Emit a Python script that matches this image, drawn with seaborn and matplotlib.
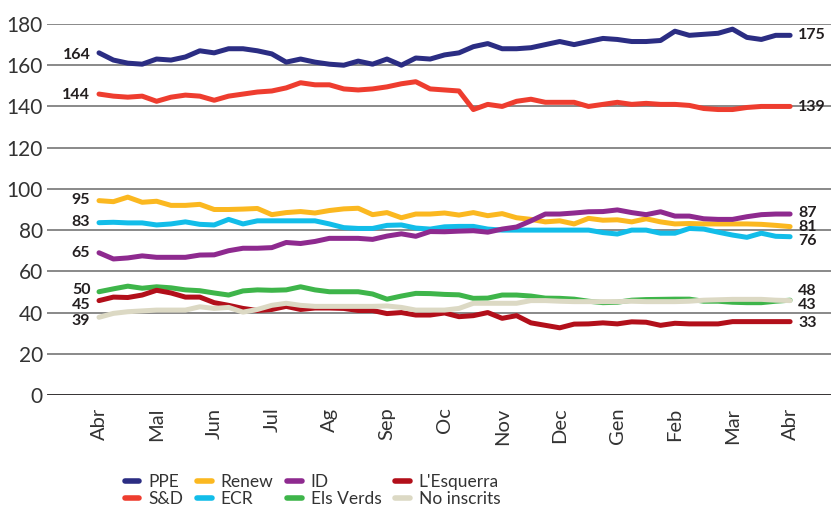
import numpy as np
import pandas as pd
import matplotlib
matplotlib.use("Agg")
import matplotlib.pyplot as plt
import seaborn as sns

# x en mesos (0 = Abr ... 12 = Abr), un punt cada quart de mes
mesos = ["Abr", "Mal", "Jun", "Jul", "Ag", "Sep", "Oc", "Nov", "Dec", "Gen", "Feb", "Mar", "Abr"]
x = np.arange(0, 12.01, 0.25)

ppe = [166, 162.5, 161, 160.5, 163, 162.5, 164, 167, 166, 168, 168, 167, 165.5,
       161.5, 163, 161.5, 160.5, 160, 162, 160.5, 163, 160, 163.5, 163, 165,
       166, 169, 170.5, 168, 168, 168.5, 170, 171.5, 170, 171.5, 173, 172.5,
       171.5, 171.5, 172, 176.5, 174.5, 175, 175.5, 177.5, 173.5, 172.5, 174.5, 174.5]
sd = [146, 145, 144.5, 145, 142.5, 144.5, 145.5, 145, 143, 145, 146, 147, 147.5,
      149, 151.5, 150.5, 150.5, 148.5, 148, 148.5, 149.5, 151, 152, 148.5, 148,
      147.5, 138.5, 141, 140, 142.5, 143.5, 142, 142, 142, 140, 141, 142,
      141, 141.5, 141, 141, 140.5, 139, 138.5, 138.5, 139.5, 140, 140, 140]
renew = [94.3, 93.8, 96, 93.5, 94, 92, 92, 92.5, 90, 90, 90.2, 90.5, 87.5,
         88.5, 89, 88.3, 89.5, 90.3, 90.6, 87.5, 88.5, 86, 87.8, 87.8, 88.3,
         87.3, 88.5, 87, 88, 86, 85.2, 84, 84.5, 83, 85.7, 84.8, 85,
         84, 85.5, 84, 83, 83.2, 83, 83, 83, 83, 82.8, 82.3, 81.7]
ecr = [83.6, 83.8, 83.5, 83.5, 82.5, 83, 84, 82.8, 82.5, 85.2, 83, 84.5, 84.5,
       84.5, 84.5, 84.5, 83, 81.2, 80.8, 80.8, 82.3, 82.5, 81, 80.5, 81.6,
       81.8, 81.8, 80.5, 80, 80, 80, 80, 80, 80, 80, 78.8, 78.1,
       80, 80, 78.5, 78.5, 80.8, 80.5, 79, 77.6, 76.5, 78.5, 77, 76.8]
id_ = [69, 66, 66.5, 67.5, 66.8, 66.8, 66.8, 67.9, 68, 70, 71.2, 71.2, 71.5,
       74, 73.5, 74.5, 76, 76, 76, 75.5, 77.1, 78.2, 77, 79.3, 79.2,
       79.5, 79.7, 79, 80.5, 81.5, 84.5, 87.8, 87.8, 88.3, 88.9, 89, 89.8,
       88.5, 87.5, 88.9, 86.8, 86.8, 85.5, 85.2, 85.2, 86.5, 87.5, 87.8, 87.8]
esquerra = [45.8, 47.5, 47.3, 48.5, 50.8, 49.5, 47.5, 47.5, 44.8, 43.5, 42, 41, 41.5,
            43, 41.5, 42.2, 42.2, 42, 41, 41, 39.5, 40, 38.8, 38.8, 39.8,
            38, 38.5, 40, 37.2, 38.5, 35, 33.8, 32.6, 34.4, 34.5, 35, 34.5,
            35.5, 35.3, 33.8, 34.8, 34.5, 34.5, 34.5, 35.6, 35.6, 35.6, 35.6, 35.6]
verds = [50.1, 51.5, 52.8, 51.8, 52.5, 52, 51, 50.6, 49.5, 48.5, 50.5, 51, 50.8,
         51, 52.5, 51, 50.1, 50.1, 50.1, 49, 46.5, 48, 49.3, 49.2, 48.8,
         48.6, 46.9, 47, 48.5, 48.5, 48, 47, 46.9, 46.5, 45.5, 44.8, 45,
         46, 46.3, 46.4, 46.5, 46.5, 45.5, 45.5, 45, 44.8, 44.8, 45.5, 46]
noinscrits = [37.7, 39.6, 40.4, 40.8, 41.2, 41.2, 41.2, 42.8, 42, 42.5, 40.2, 41.5, 43.5,
              44.5, 43.5, 43, 43, 43, 43, 43, 43.2, 42.5, 41.2, 41.2, 41.2,
              42, 44.5, 44.5, 44.5, 44.5, 45.8, 45.8, 45.5, 45.3, 45.3, 45.3, 45.3,
              45.5, 45.3, 45.3, 45.3, 45.5, 46, 46.2, 46.4, 46.4, 46.4, 46, 45.8]

grups = ["PPE", "S&D", "Renew", "ECR", "ID", "Els Verds", "L'Esquerra", "No inscrits"]
colors = ["#2b2d83", "#ee3d2f", "#fbb820", "#12bde9", "#8e2a8f", "#3eb54a", "#b20f1a", "#dcd9c4"]
series = [ppe, sd, renew, ecr, id_, verds, esquerra, noinscrits]

# etiquetes inicials i finals
inici = ["164", "144", "95", "83", "65", "50", "45", "39"]
final = ["175", "139", "81", "76", "87", "48", "33", "43"]

df = pd.concat([pd.DataFrame({"mes": x, "escons": s, "grup": g}) for g, s in zip(grups, series)])

sns.set_style("white")
plt.rcParams["font.family"] = ["Lato", "DejaVu Sans"]

fig = plt.figure(figsize=(8.31, 5.08), dpi=100)
ax = fig.add_axes([47 / 831, 113 / 508, 784 / 831, 371 / 508])

for yv in range(20, 181, 20):
    ax.axhline(yv, color="#808080", lw=1.3, zorder=0)
ax.axhline(0, color="#231f20", lw=2, zorder=0)

sns.lineplot(data=df, x="mes", y="escons", hue="grup", palette=dict(zip(grups, colors)),
             hue_order=grups, lw=3.6, ax=ax, legend=False, clip_on=False,
             solid_capstyle="round", solid_joinstyle="round")

ax.set_xlim(-0.903, 12.71)
ax.set_ylim(0, 180)
ax.set_yticks(range(0, 181, 20))
ax.set_xticks(range(13))
ax.set_xticklabels(mesos, rotation=90)
ax.tick_params(axis="y", length=0, pad=3, labelsize=15, labelcolor="#333333")
ax.tick_params(axis="x", length=0, pad=9, labelsize=14.5, labelcolor="#333333")
ax.set_xlabel("")
ax.set_ylabel("")
for s in ax.spines.values():
    s.set_visible(False)

# posicio vertical de les etiquetes (ajustada per evitar solapaments)
y_inici = [165, 145.5, 94.6, 84, 69, 51, 43.7, 36]
y_final = [174.7, 139.7, 81.5, 74.5, 88.5, 50.5, 34.9, 43.5]
for t, yv in zip(inici, y_inici):
    ax.text(-0.15, yv, t, ha="right", va="center", fontsize=11.5, fontweight="bold", color="#231f20")
for t, yv in zip(final, y_final):
    ax.text(12.14, yv, t, ha="left", va="center", fontsize=11.5, fontweight="bold", color="#231f20")

handles = [plt.Line2D([], [], color=c, lw=4, solid_capstyle="round") for c in colors]
fig.legend(handles, grups, ncol=4, loc="upper left", bbox_to_anchor=(116 / 831, 1 - 465 / 508),
           frameon=False, fontsize=12.5, handlelength=0.85, handletextpad=0.5,
           columnspacing=0.8, labelspacing=0.1, labelcolor="#333333", borderpad=0)

fig.savefig("out.png", dpi=100)
